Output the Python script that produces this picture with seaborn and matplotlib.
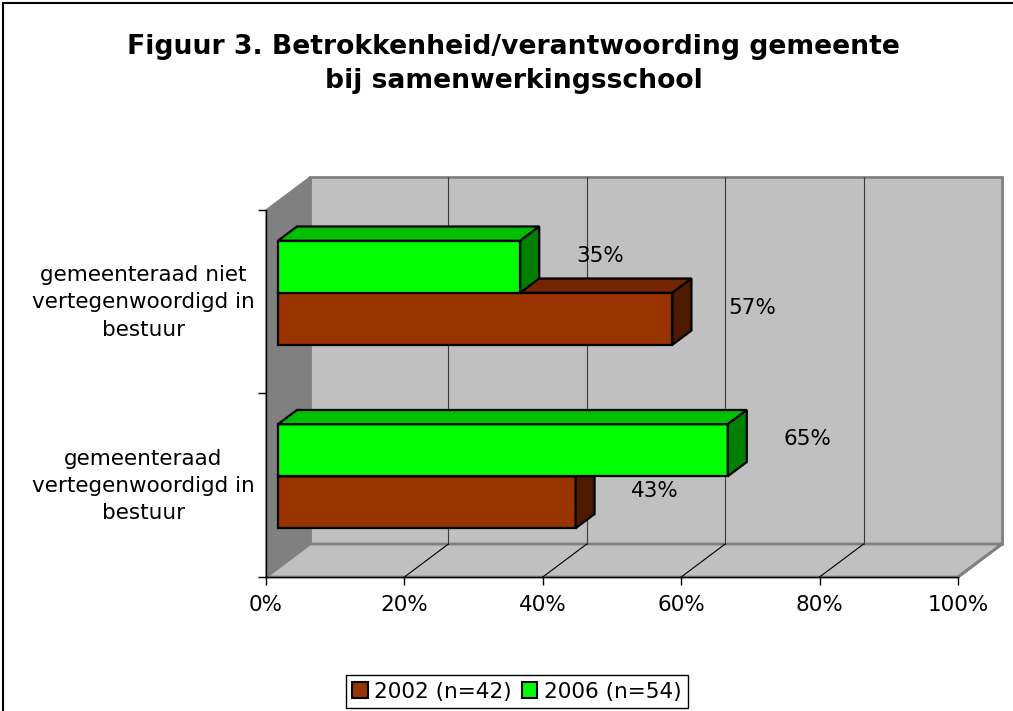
import numpy as np
import pandas as pd
import seaborn as sns
import matplotlib.pyplot as plt
from matplotlib.patches import Polygon, Rectangle, Patch
from matplotlib.ticker import PercentFormatter
from matplotlib.transforms import ScaledTranslation

# data
categories = ['gemeenteraad niet\nvertegenwoordigd in\nbestuur',
              'gemeenteraad\nvertegenwoordigd in\nbestuur']
years = ['2002 (n=42)', '2006 (n=54)']
pct_2002 = [57, 43]
pct_2006 = [35, 65]

df = pd.DataFrame({'cat': categories * 2,
                   'year': [years[0]] * 2 + [years[1]] * 2,
                   'pct': pct_2002 + pct_2006})

front_col = {years[0]: '#993300', years[1]: '#00FF00'}
top_col = {years[0]: '#732600', years[1]: '#00BF00'}
side_col = {years[0]: '#4D1A00', years[1]: '#008000'}

sns.set_theme(style='white')
plt.rcParams['font.family'] = ['DejaVu Sans']
plt.rcParams['text.color'] = 'black'
plt.rcParams['xtick.color'] = 'black'
plt.rcParams['ytick.color'] = 'black'
FS = 15.5

fig = plt.figure(figsize=(10.13, 7.11), dpi=100)
ax = fig.add_axes([266 / 1013, 134 / 711, 692 / 1013, 367 / 711])

# green on top inside each group -> 2006 first
order = years[::-1]
sns.barplot(data=df, x='pct', y='cat', hue='year', hue_order=order,
            palette=front_col, width=0.567, orient='h', saturation=1,
            edgecolor='black', linewidth=1.6, legend=False, ax=ax)

ax.set_xlim(0, 100)
ax.set_ylim(1.5, -0.5)

"""
fake 3D: depth vector of the Excel chart, in pixels
"""
DX, DY = 44, 33
xpx = ax.bbox.width / 100
ypx = ax.bbox.height / 2


def proj(x, y, d):
    return (x + d * DX / xpx, y - d * DY / ypx)


wall_kw = dict(clip_on=False, transform=ax.transData)
ax.add_patch(Polygon([proj(0, -0.5, 1), proj(100, -0.5, 1), proj(100, 1.5, 1), proj(0, 1.5, 1)],
                     fc='#C0C0C0', ec='#808080', lw=2, zorder=0.1, **wall_kw))
ax.add_patch(Polygon([proj(0, -0.5, 0), proj(0, -0.5, 1), proj(0, 1.5, 1), proj(0, 1.5, 0)],
                     fc='#808080', ec='#808080', lw=1, zorder=0.2, **wall_kw))
ax.add_patch(Polygon([proj(0, 1.5, 0), proj(100, 1.5, 0), proj(100, 1.5, 1), proj(0, 1.5, 1)],
                     fc='#C0C0C0', ec='#808080', lw=2, zorder=0.2, **wall_kw))

for v in [20, 40, 60, 80]:
    (gx, gy0), (_, gy1) = proj(v, -0.5, 1), proj(v, 1.5, 1)
    ax.plot([gx, gx], [gy0, gy1], color='#3a3a3a', lw=0.8, zorder=0.3, clip_on=False)
for v in [20, 40, 60, 80, 100]:
    p0, p1 = proj(v, 1.5, 0), proj(v, 1.5, 1)
    ax.plot([p0[0], p1[0]], [p0[1], p1[1]], color='black' if v < 100 else '#808080',
            lw=0.8 if v < 100 else 2, zorder=0.3, clip_on=False)

# bars: move front face to its depth, add top and right faces
F, B = 12 / 44, 31 / 44
bars = []
for level, cont in zip(order, ax.containers):
    for p in cont.patches:
        bars.append((level, p))
bars.sort(key=lambda t: -t[1].get_y())

for z, (level, p) in enumerate(bars):
    x0, y0, w, h = p.get_x(), p.get_y(), p.get_width(), p.get_height()
    x1, y1 = x0 + w, y0 + h
    fx, fy = proj(x0, y0, F)
    p.set_x(fx)
    p.set_y(fy)
    p.set_zorder(3 + z)
    p.set_clip_on(False)
    ax.add_patch(Polygon([proj(x0, y0, F), proj(x1, y0, F), proj(x1, y0, B), proj(x0, y0, B)],
                         fc=top_col[level], ec='black', lw=1.6, zorder=3 + z, **wall_kw))
    ax.add_patch(Polygon([proj(x1, y0, F), proj(x1, y1, F), proj(x1, y1, B), proj(x1, y0, B)],
                         fc=side_col[level], ec='black', lw=1.6, zorder=3 + z, **wall_kw))
    lx, ly = proj(x1 + 11.5, (y0 + y1) / 2 - 0.06, F)
    ax.text(lx, ly, f'{w:.0f}%', ha='center', va='center', fontsize=FS,
            color='black', zorder=20)

# axes look
for s in ['top', 'right']:
    ax.spines[s].set_visible(False)
for s in ['left', 'bottom']:
    ax.spines[s].set_color('black')
    ax.spines[s].set_linewidth(1)
    ax.spines[s].set_zorder(1)

ax.set_xticks([0, 20, 40, 60, 80, 100])
ax.xaxis.set_major_formatter(PercentFormatter(100, decimals=0))
ax.tick_params(axis='x', direction='out', length=6, width=1, color='black',
               labelsize=FS, pad=7, bottom=True)
ax.set_yticks([0, 1])
ax.set_yticklabels(categories, multialignment='center', linespacing=1.45)
ax.set_yticks([-0.5, 0.5, 1.5], minor=True)
ax.tick_params(axis='y', which='major', length=0, labelsize=FS, pad=8)
ax.tick_params(axis='y', which='minor', direction='out', length=6, width=1,
               color='black', left=True)
for lbl in ax.get_yticklabels():
    lbl.set_transform(lbl.get_transform() + ScaledTranslation(0, 0.05, fig.dpi_scale_trans))
ax.set_xlabel('')
ax.set_ylabel('')
ax.set_facecolor('none')

fig.text(0.507, 1 - 64 / 711,
         'Figuur 3. Betrokkenheid/verantwoording gemeente\nbij samenwerkingsschool',
         ha='center', va='center', fontsize=19.2, fontweight='bold', linespacing=1.35,
         color='black')

handles = [Patch(fc=front_col[y], ec='black', lw=1.5, label=y) for y in years]
leg = fig.legend(handles=handles, loc='lower center', bbox_to_anchor=(517 / 1013, 3 / 711),
                 ncol=2, frameon=True, fancybox=False, edgecolor='black', framealpha=1,
                 handlelength=0.7, handleheight=0.7, handletextpad=0.3,
                 columnspacing=0.5, borderpad=0.3, borderaxespad=0, fontsize=FS)
leg.get_frame().set_linewidth(1)

# outer chart border (right/bottom are cut off in the reference)
fig.add_artist(Rectangle((3 / 1013, -0.1), 1.1, 1.1 - 3 / 711, transform=fig.transFigure,
                         fill=False, ec='black', lw=1.5))

fig.savefig('out.png', dpi=100)
